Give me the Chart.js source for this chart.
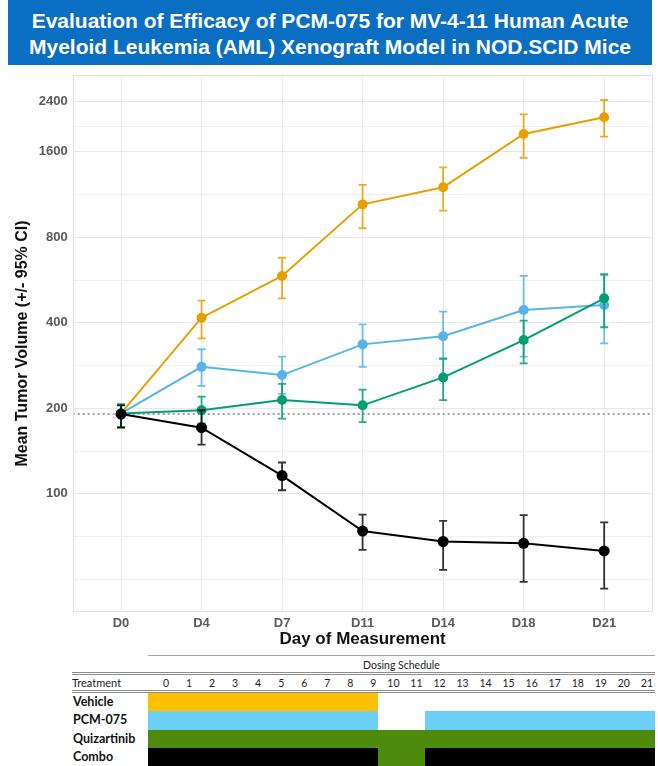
<!DOCTYPE html>
<html>
<head>
<meta charset="utf-8">
<script src="https://cdn.jsdelivr.net/npm/chart.js@4/dist/chart.umd.min.js"></script>
<style>
  html, body { margin: 0; padding: 0; background: #fff; }
  #page { position: relative; width: 658px; height: 766px; overflow: hidden; font-family: 'Liberation Sans', Arial, sans-serif; }
  #plot { position: absolute; left: 0; top: 0; width: 658px; height: 650px; }
  #banner { position: absolute; left: 8px; top: 0; width: 644px; height: 65px; background: #0A6FC2;
            color: #fff; font-weight: bold; font-size: 21px; line-height: 26px; text-align: center;
            box-sizing: border-box; padding-top: 8px; white-space: nowrap; }
  .tbl { position: absolute; font-family: Lato, 'Noto Sans', sans-serif; color: #222; white-space: nowrap; }
  .rule { position: absolute; }
</style>
</head>
<body>
<div id="page">
  <div id="plot"><canvas id="chart"></canvas></div>
  <div id="banner">Evaluation of Efficacy of PCM-075 for MV-4-11 Human Acute<br>Myeloid Leukemia (AML) Xenograft Model in NOD.SCID Mice</div>
  <div id="schedule"></div>
</div>
<script>
// Measurement days (x axis)
const days = ['D0', 'D4', 'D7', 'D11', 'D14', 'D18', 'D21'];

// Mean tumour volume (mm^3) with 95% CI bounds per group
const vehicleMean = [192, 417, 585, 1045, 1200, 1848, 2117];
const vehicleLow  = [171, 353, 488, 861, 993, 1525, 1809];
const vehicleHigh = [207, 479, 678, 1223, 1411, 2169, 2435];

const pcmMean = [192, 280, 262, 336, 359, 444, 462];
const pcmLow  = [172, 240, 225, 280, 300, 304, 339];
const pcmHigh = [207, 323, 304, 395, 438, 585, 588];

const quizMean = [192, 197, 214, 205, 257, 348, 488];
const quizLow  = [172, 177, 184, 179, 214, 288, 386];
const quizHigh = [206, 220, 244, 233, 299, 407, 594];

const comboMean = [191, 171, 116, 74, 68, 67, 63];
const comboLow  = [171, 149, 103, 63.5, 54, 49, 46.4];
const comboHigh = [205, 197, 129, 84.6, 80.4, 84.2, 79.4];

// Starting volume reference level
const baseline = 191;

// Log-axis grid values and the subset that carries labels
const yGridValues = [50, 70.7, 100, 141.4, 200, 282.8, 400, 565.7, 800, 1131, 1600, 1960, 2400];
const yTickLabels = [100, 200, 400, 800, 1600, 2400];

// Dosing schedule (study days and dosed day ranges)
const scheduleDays = [0, 1, 2, 3, 4, 5, 6, 7, 8, 9, 10, 11, 12, 13, 14, 15, 16, 17, 18, 19, 20, 21];
const treatments = ['Vehicle', 'PCM-075', 'Quizartinib', 'Combo'];
const vehicleDosing = [[0, 9]];
const pcmDosing = [[0, 9], [12, 21]];
const quizDosing = [[0, 21]];

const COLORS = {
  vehicle: '#E69F00', pcm: '#56B4E9', quiz: '#009E73', combo: '#000000'
};

function series(label, mean, low, high, color, order, radius) {
  return {
    label,
    data: mean.map((v, i) => ({ x: i, y: v })),
    errLow: low, errHigh: high,
    borderColor: color, backgroundColor: color,
    borderWidth: 2, pointRadius: radius, pointHoverRadius: radius,
    pointBorderWidth: 0, tension: 0, order
  };
}

// Vertical 95% CI whiskers with caps, drawn just beneath each series
const errorBars = {
  id: 'errorBars',
  beforeDatasetDraw(chart, args) {
    const ds = chart.data.datasets[args.index];
    if (!ds.errLow) return;
    const { ctx } = chart;
    const xs = chart.scales.x, ys = chart.scales.y;
    ctx.save();
    ctx.strokeStyle = ds.borderColor;
    ctx.globalAlpha = ds.borderColor === '#000000' ? 0.8 : 0.85;
    ctx.lineWidth = 1.8;
    ds.data.forEach((p, i) => {
      const x = xs.getPixelForValue(p.x);
      const y1 = ys.getPixelForValue(ds.errLow[i]);
      const y2 = ys.getPixelForValue(ds.errHigh[i]);
      ctx.beginPath();
      ctx.moveTo(x, y1); ctx.lineTo(x, y2);
      ctx.moveTo(x - 4, y1); ctx.lineTo(x + 4, y1);
      ctx.moveTo(x - 4, y2); ctx.lineTo(x + 4, y2);
      ctx.stroke();
    });
    ctx.restore();
  }
};

// Thin frame around the plotting panel
const panelBorder = {
  id: 'panelBorder',
  afterDraw(chart) {
    const { ctx, chartArea: a } = chart;
    ctx.save();
    ctx.strokeStyle = '#e2e2e2';
    ctx.lineWidth = 1;
    ctx.strokeRect(Math.round(a.left) + 0.5, Math.round(a.top) + 0.5,
                   Math.round(a.right - a.left) - 1, Math.round(a.bottom - a.top) - 1);
    ctx.restore();
  }
};

new Chart(document.getElementById('chart'), {
  type: 'line',
  data: {
    datasets: [
      series('Combo', comboMean, comboLow, comboHigh, COLORS.combo, 1, 5.5),
      series('Quizartinib', quizMean, quizLow, quizHigh, COLORS.quiz, 2, 5),
      series('PCM-075', pcmMean, pcmLow, pcmHigh, COLORS.pcm, 3, 5),
      series('Vehicle', vehicleMean, vehicleLow, vehicleHigh, COLORS.vehicle, 4, 5),
      {
        label: 'baseline',
        data: [{ x: -0.6, y: baseline }, { x: days.length - 0.4, y: baseline }],
        borderColor: '#a0a0a0', borderWidth: 2, borderDash: [2, 3],
        pointRadius: 0, order: 10
      }
    ]
  },
  options: {
    responsive: true,
    maintainAspectRatio: false,
    animation: false,
    layout: { padding: { top: 75, right: 3, bottom: 0, left: 0 } },
    plugins: { legend: { display: false }, tooltip: { enabled: false } },
    scales: {
      x: {
        type: 'linear',
        min: -0.6, max: days.length - 0.4,
        afterBuildTicks: s => { s.ticks = days.map((_, i) => ({ value: i })); },
        afterFit: s => { s.height = 38; },
        grid: { color: '#ececec', lineWidth: 1, drawTicks: false },
        border: { display: false },
        ticks: {
          padding: 4, color: '#5a5a5a',
          font: { family: 'Liberation Sans', size: 13, weight: 'bold' },
          callback: v => days[v]
        },
        title: {
          display: true, text: 'Day of Measurement', color: '#111',
          font: { family: 'Liberation Sans', size: 17, weight: 'bold' },
          padding: { top: 0, bottom: 0 }
        }
      },
      y: {
        type: 'logarithmic',
        min: 38.4, max: 2982,
        afterBuildTicks: s => { s.ticks = yGridValues.map(v => ({ value: v })); },
        afterFit: s => { s.width = 72.7; },
        grid: {
          drawTicks: false,
          color: c => (yTickLabels.includes(c.tick && c.tick.value) ? '#e8e8e8' : '#f0f0f0'),
          lineWidth: 1
        },
        border: { display: false },
        ticks: {
          padding: 5, color: '#5a5a5a',
          font: { family: 'Liberation Sans', size: 13, weight: 'bold' },
          callback: v => (yTickLabels.includes(v) ? String(v) : '')
        },
        title: {
          display: true, text: 'Mean Tumor Volume (+/- 95% CI)', color: '#111',
          font: { family: 'Liberation Sans', size: 16, weight: 'bold' },
          padding: { top: 13, bottom: 0 }
        }
      }
    }
  },
  plugins: [errorBars, panelBorder]
});

// ---- Dosing schedule table ----
(function buildSchedule() {
  const root = document.getElementById('schedule');
  const gridLeft = 148, gridRight = 655, tableLeft = 72;
  const colW = (gridRight - gridLeft) / scheduleDays.length;
  const rowTop = 693, rowH = 18.25;
  const fill = { V: '#FFC000', P: '#6CCFF6', Q: '#4E8B0C', C: '#000000' };

  function el(cls, css, text) {
    const d = document.createElement('div');
    d.className = cls;
    Object.assign(d.style, css);
    if (text !== undefined) d.textContent = text;
    root.appendChild(d);
    return d;
  }
  const dosed = (ranges, d) => ranges.some(([a, b]) => d >= a && d <= b);

  // rules
  el('rule', { left: gridLeft + 'px', top: '655px', width: (gridRight - gridLeft) + 'px', borderTop: '1.5px solid #a6a6a6' });
  el('rule', { left: tableLeft + 'px', top: '672px', width: (gridRight - tableLeft) + 'px', borderTop: '3px double #8c8c8c' });
  el('rule', { left: tableLeft + 'px', top: '689.5px', width: (gridRight - tableLeft) + 'px', borderTop: '3px double #8c8c8c' });

  el('tbl', { left: gridLeft + 'px', width: (gridRight - gridLeft) + 'px', top: '658px', textAlign: 'center', fontSize: '10.5px', lineHeight: '14px' }, 'Dosing Schedule');
  el('tbl', { left: tableLeft + 'px', top: '676px', fontSize: '11px', lineHeight: '14px' }, 'Treatment');
  scheduleDays.forEach((d, i) => {
    el('tbl', { left: (gridLeft + colW * i) + 'px', width: (colW - 2) + 'px', top: '676px', textAlign: 'right', fontSize: '10.5px', lineHeight: '14px' }, String(d));
  });

  const codes = {
    'Vehicle': d => (dosed(vehicleDosing, d) ? 'V' : ''),
    'PCM-075': d => (dosed(pcmDosing, d) ? 'P' : ''),
    'Quizartinib': d => (dosed(quizDosing, d) ? 'Q' : ''),
    'Combo': d => (dosed(pcmDosing, d) && dosed(quizDosing, d) ? 'C' : dosed(quizDosing, d) ? 'Q' : '')
  };

  treatments.forEach((t, r) => {
    const top = rowTop + r * rowH;
    el('tbl', { left: '73px', top: top + 'px', height: rowH + 'px', lineHeight: rowH + 'px', fontSize: '12.5px', fontWeight: 'bold', color: '#111' }, t);
    // merge consecutive days with the same fill into one block
    let start = 0;
    for (let i = 1; i <= scheduleDays.length; i++) {
      const cur = codes[t](scheduleDays[start]);
      const nxt = i < scheduleDays.length ? codes[t](scheduleDays[i]) : null;
      if (nxt !== cur) {
        if (cur) {
          el('rule', {
            left: (gridLeft + colW * start) + 'px', top: top + 'px',
            width: (colW * (i - start)) + 'px', height: (rowH + 0.3) + 'px', background: fill[cur]
          });
        }
        start = i;
      }
    }
  });
})();
</script>
</body>
</html>
